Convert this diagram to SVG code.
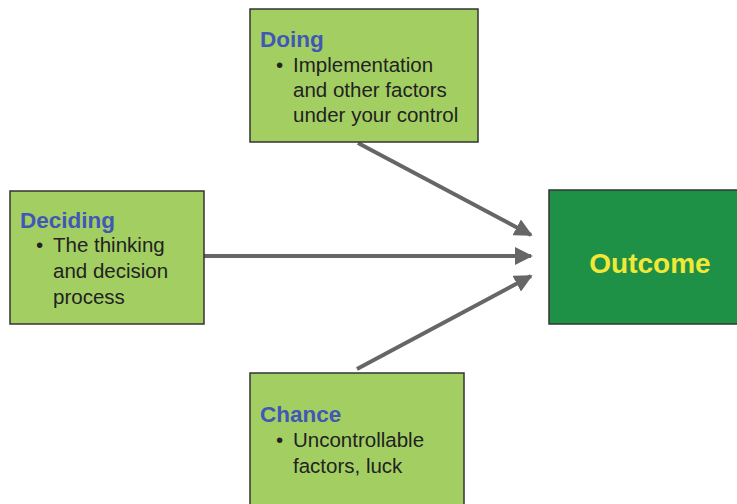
<svg xmlns="http://www.w3.org/2000/svg" width="737" height="504" viewBox="0 0 737 504">
<style>
.box{fill:#a3cf62;stroke:#333;stroke-width:1.5}
.out{fill:#1f9147;stroke:#333;stroke-width:1.5}
.t{font-family:"Liberation Sans",Arial,sans-serif;font-weight:bold;font-size:22.5px;fill:#4157b5}
.b{font-family:"Liberation Sans",Arial,sans-serif;font-size:20.5px;fill:#222}
.o{font-family:"Liberation Sans",Arial,sans-serif;font-weight:bold;font-size:28px;fill:#f2e838}
.c{stroke:#666;stroke-width:4;fill:none}
</style>
<defs>
<marker id="ah" viewBox="0 0 10 10" refX="9" refY="5" markerWidth="4.5" markerHeight="4.5" orient="auto" markerUnits="strokeWidth">
<path d="M0,0 L10,5 L0,10 Z" fill="#666"/>
</marker>
</defs>
<rect width="737" height="504" fill="#fff"/>
<g id="connectors">
<line class="c" x1="358" y1="143" x2="531" y2="235" marker-end="url(#ah)"/>
<line class="c" x1="204" y1="256" x2="531" y2="256" marker-end="url(#ah)"/>
<line class="c" x1="357" y1="369" x2="531" y2="276" marker-end="url(#ah)"/>
</g>
<g id="doing">
<rect class="box" x="250" y="9" width="228" height="133"/>
<text class="t" x="260" y="47">Doing</text>
<text class="b" x="276" y="72">•</text>
<text class="b" x="293" y="72">Implementation</text>
<text class="b" x="293" y="97">and other factors</text>
<text class="b" x="293" y="122">under your control</text>
</g>
<g id="deciding">
<rect class="box" x="10" y="191" width="194" height="133"/>
<text class="t" x="20" y="228">Deciding</text>
<text class="b" x="36" y="252">•</text>
<text class="b" x="53" y="252">The thinking</text>
<text class="b" x="53" y="278">and decision</text>
<text class="b" x="53" y="304">process</text>
</g>
<g id="chance">
<rect class="box" x="250" y="373" width="214" height="140"/>
<text class="t" x="260" y="422">Chance</text>
<text class="b" x="276" y="447">•</text>
<text class="b" x="293" y="447">Uncontrollable</text>
<text class="b" x="293" y="473">factors, luck</text>
</g>
<g id="outcome">
<rect class="out" x="549" y="190" width="200" height="134"/>
<text class="o" x="650" y="273" text-anchor="middle">Outcome</text>
</g>
</svg>
